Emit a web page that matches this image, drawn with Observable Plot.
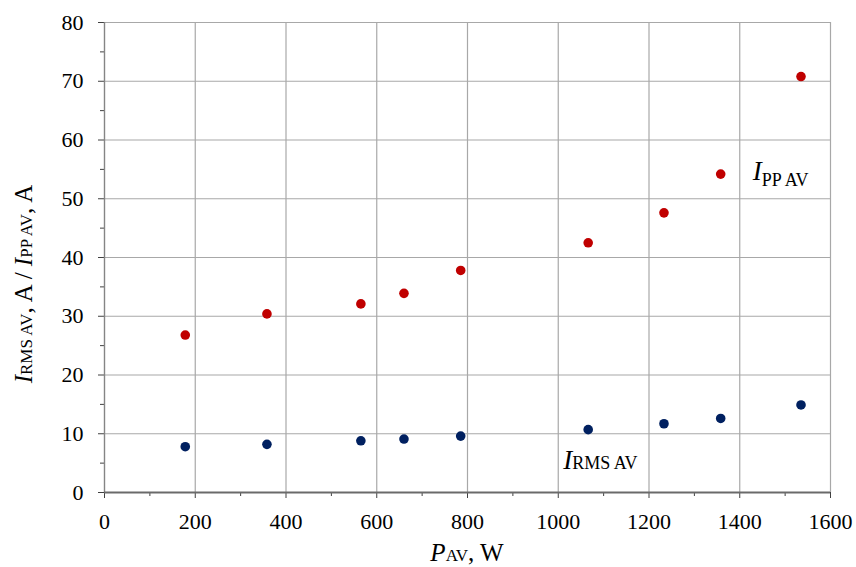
<!DOCTYPE html>
<html>
<head>
<meta charset="utf-8">
<script src="https://cdn.jsdelivr.net/npm/d3@7"></script>
<script src="https://cdn.jsdelivr.net/npm/@observablehq/plot@0.6"></script>
<style>
  html, body { margin: 0; padding: 0; background: #fff; }
  #chart svg { display: block; }
  #chart svg, #chart svg text, #chart svg tspan {
    font-family: "Liberation Serif", "Times New Roman", Tinos, "DejaVu Serif", serif;
  }
</style>
</head>
<body>
<div id="chart"></div>
<script>
// Average power (W) and the corresponding average currents (A)
const powerW = [178, 358, 565, 660, 785, 1066, 1233, 1358, 1535];
const iRmsAv = [7.8, 8.2, 8.8, 9.1, 9.6, 10.7, 11.7, 12.6, 14.9];
const iPpAv  = [26.8, 30.4, 32.1, 33.9, 37.8, 42.5, 47.6, 54.2, 70.8];

// Axis ticks
const xMajor = [0, 200, 400, 600, 800, 1000, 1200, 1400, 1600];
const xMinor = [100, 300, 500, 700, 900, 1100, 1300, 1500];
const yMajor = [0, 10, 20, 30, 40, 50, 60, 70, 80];
const yMinor = [5, 15, 25, 35, 45, 55, 65, 75];

const rmsRows = powerW.map((p, i) => ({p, i: iRmsAv[i]}));
const ppRows  = powerW.map((p, i) => ({p, i: iPpAv[i]}));

const serif = "\"Liberation Serif\", \"Times New Roman\", Tinos, \"DejaVu Serif\", serif";
const gridColor = "#a8a8a8";
const tickColor = "#404040";
const plain = d => String(d);

const chart = Plot.plot({
  width: 856,
  height: 567,
  marginLeft: 104,
  marginRight: 26,
  marginTop: 22,
  marginBottom: 75,
  style: {fontFamily: serif, fontSize: "22px", color: "#000", background: "#fff"},
  x: {domain: [0, 1600]},
  y: {domain: [0, 80]},
  marks: [
    Plot.gridX(xMajor.filter(d => d > 0), {stroke: gridColor, strokeOpacity: 1, strokeWidth: 1.2}),
    Plot.gridY(yMajor.filter(d => d > 0), {stroke: gridColor, strokeOpacity: 1, strokeWidth: 1.2}),
    Plot.axisX(xMinor, {tickSize: 4, text: null, stroke: tickColor, label: null}),
    Plot.axisY(yMinor, {tickSize: 4, text: null, stroke: tickColor, label: null}),
    Plot.axisX(xMajor, {tickSize: 6, tickPadding: 15, stroke: tickColor, label: null, fontSize: 22, tickFormat: plain}),
    Plot.axisY(yMajor, {tickSize: 6, tickPadding: 15, stroke: tickColor, label: null, fontSize: 22, tickFormat: plain}),
    Plot.ruleX([0], {stroke: "#858585", strokeWidth: 1.4}),
    Plot.ruleY([0], {stroke: "#6a6a6a", strokeWidth: 2}),
    Plot.dot(rmsRows, {x: "p", y: "i", r: 4.8, fill: "#002060", stroke: "none"}),
    Plot.dot(ppRows,  {x: "p", y: "i", r: 4.8, fill: "#c00000", stroke: "none"})
  ]
});

document.getElementById("chart").appendChild(chart);

// Rich-text labels (italic symbol + smaller subscript) added onto the SVG
const svg = d3.select(chart);
const xs = chart.scale("x");
const ys = chart.scale("y");

function richText(g, parts) {
  parts.forEach(([txt, size, italic, dy]) => {
    const t = g.append("tspan")
      .attr("font-size", size)
      .text(txt);
    if (italic) t.attr("font-style", "italic");
    if (dy) t.attr("dy", dy);
  });
}

function label(x, y, anchor, transform) {
  const t = svg.append("text")
    .attr("text-anchor", anchor)
    .attr("font-family", serif)
    .attr("fill", "#000");
  if (transform) t.attr("transform", transform);
  else t.attr("x", x).attr("y", y);
  return t;
}

// x-axis title, centred under the plot area
const xMid = (xs.apply(0) + xs.apply(1600)) / 2;
richText(label(xMid, 561, "middle"), [["P", 25, true], ["AV", 17], [", W", 25]]);

// y-axis title, rotated
richText(label(0, 0, "middle", "translate(32, 284) rotate(-90)"),
  [["I", 25, true], ["RMS AV", 17], [", A / ", 25], ["I", 25, true], ["PP AV", 17], [", A", 25]]);

// Series annotations placed in data coordinates
richText(label(xs.apply(1430), ys.apply(53.1), "start"), [["I", 27, true], ["PP AV", 18, false, 6]]);
richText(label(xs.apply(1012), ys.apply(4.0), "start"), [["I", 27, true], ["RMS AV", 18]]);
</script>
</body>
</html>
